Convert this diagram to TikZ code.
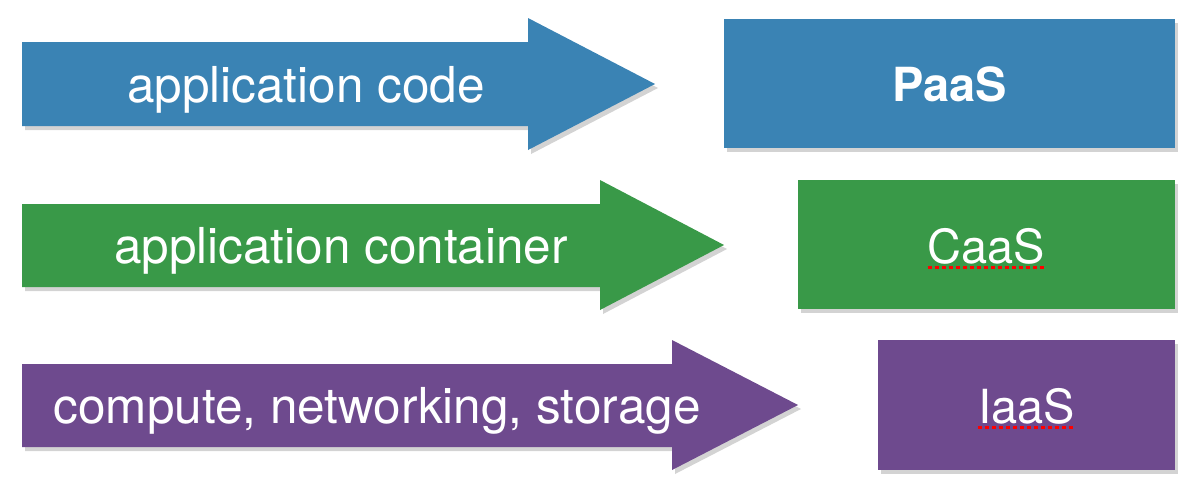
\documentclass[tikz,border=0pt]{standalone}
\usepackage{fontspec}
\setmainfont{TeX Gyre Heros}
\usetikzlibrary{
    positioning,
    shadows
}
\definecolor{paasblue}{RGB}{58,131,180}
\definecolor{caasgreen}{RGB}{57,153,72}
\definecolor{iaaspurple}{RGB}{110,74,142}
\tikzset{
    % Shapes
    paper shadow/.style={drop shadow={opacity=.35,shadow xshift=3pt,shadow yshift=-4pt}},
    layer arrow/.style={fill=#1,paper shadow},
    layer box/.style={rectangle,fill=#1,paper shadow,inner sep=0pt},
    %
    % Texts
    big text/.style={text=white,font=\fontsize{47}{56}\selectfont,inner sep=0pt,anchor=base},
    arrow text/.style={big text,font=\fontsize{49.5}{58}\selectfont},
    spell mark/.style={red,line width=3pt,dash pattern=on 4pt off 3pt}
}

\begin{document}
\begin{tikzpicture}[x=1pt,y=-1pt]
    \useasboundingbox (0,0) rectangle (1190,488);
    % arrows
    \fill[layer arrow=paasblue] (22,42) -- (528,42) -- (528,18) -- (655,84) -- (528,150) -- (528,126) -- (22,126) -- cycle;
    \fill[layer arrow=caasgreen] (22,204) -- (600,204) -- (600,180) -- (724,245) -- (600,310) -- (600,287) -- (22,287) -- cycle;
    \fill[layer arrow=iaaspurple] (22,364) -- (672,364) -- (672,340) -- (798,405) -- (672,470) -- (672,447) -- (22,447) -- cycle;
    \node[arrow text] (code) at (306,102) {application code};
    \node[arrow text] (container) at (341,263) {application container};
    \node[arrow text] (infra) at (377,423) {compute, networking, storage};
    % boxes
    \node[layer box=paasblue,minimum width=451pt,minimum height=129pt] (paas) at (949.5,83.5) {};
    \node[layer box=caasgreen,minimum width=377pt,minimum height=129pt] (caas) at (986.5,244.5) {};
    \node[layer box=iaaspurple,minimum width=297pt,minimum height=130pt] (iaas) at (1026.5,405) {};
    \node[big text,font=\fontsize{47}{56}\selectfont\bfseries] (paas label) at (949.5,101) {PaaS};
    \node[big text] (caas label) at (986.5,263) {CaaS};
    \node[big text] (iaas label) at (1026.5,423) {IaaS};
    \draw[spell mark] ([yshift=-4pt]caas label.base west) -- ([yshift=-4pt]caas label.base east);
    \draw[spell mark] ([yshift=-4pt]iaas label.base west) -- ([yshift=-4pt]iaas label.base east);
\end{tikzpicture}
\end{document}
